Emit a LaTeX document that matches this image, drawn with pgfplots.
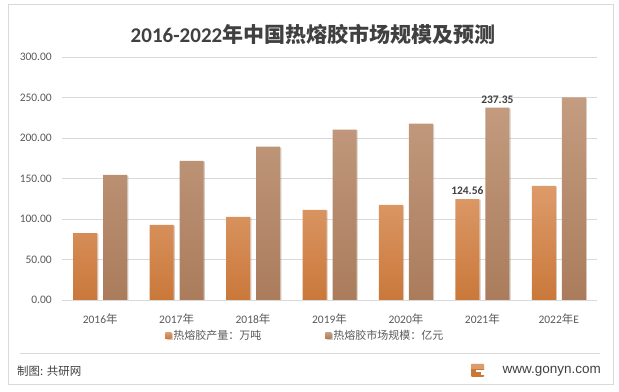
\documentclass[border=0pt]{standalone}
\usepackage{fontspec}
\setmainfont{Carlito}
\newfontfamily\cjk{Noto Sans CJK SC}
\newfontfamily\lib{Liberation Sans}
\usepackage{pgfplots}
\pgfplotsset{compat=1.18}
\usetikzlibrary{shadows}
\definecolor{orT}{RGB}{221,155,106}
\definecolor{orB}{RGB}{202,120,58}
\definecolor{brT}{RGB}{196,156,128}
\definecolor{brB}{RGB}{170,124,92}
\definecolor{gridc}{RGB}{217,217,217}
\definecolor{txt}{RGB}{89,89,89}
\definecolor{dtxt}{RGB}{64,64,64}
\begin{document}
\begin{tikzpicture}
\path[use as bounding box] (0,0) rectangle (619bp,392bp);
\draw[gridc, line width=0.75bp] (8bp,8bp) rectangle (613bp,388bp);
\draw[gridc, line width=0.75bp] (20bp,39bp) -- (600bp,39bp);
\node[anchor=west, text=dtxt, font=\cjk\fontsize{11.5bp}{13bp}\selectfont, inner sep=0pt] at (17bp,21bp) {制图: 共研网};
\node[anchor=east, text=dtxt, font=\lib\fontsize{13.5bp}{15bp}\selectfont, inner sep=0pt] at (601bp,21bp) {www.gonyn.com};
\fill[orB, rounded corners=1bp] (471bp,15bp) rectangle (484bp,28bp);
\fill[orT] (471bp,23bp) rectangle (484bp,28bp);
\fill[white] (476bp,19.5bp) rectangle (484.5bp,22bp);
\fill[white] (481bp,17bp) rectangle (484.5bp,22bp);
\node[text=dtxt, font=\fontsize{21bp}{24bp}\selectfont\bfseries, inner sep=0pt] at (313bp,358bp) {2016-2022{\cjk\bfseries 年中国热熔胶市场规模及预测}};
\begin{axis}[
  at={(62bp,92bp)}, anchor=south west, scale only axis,
  width=535bp, height=243bp,
  xmin=-0.5, xmax=6.5, ymin=0, ymax=300,
  ybar=6bp, bar width=24bp,
  ytick={0,50,...,300},
  xtick={0,...,6},
  xticklabels={2016{\cjk 年},2017{\cjk 年},2018{\cjk 年},2019{\cjk 年},2020{\cjk 年},2021{\cjk 年},2022{\cjk 年}E},
  ymajorgrids, grid style={gridc, line width=0.75bp},
  axis line style={draw=none},
  major tick length=0pt,
  tick label style={text=txt, font=\fontsize{11.5bp}{13bp}\selectfont},
  /pgf/number format/assume math mode=true,
  yticklabel style={/pgf/number format/fixed, /pgf/number format/fixed zerofill, /pgf/number format/precision=2, inner sep=0pt, xshift=-10bp},
  xticklabel style={inner sep=0pt, anchor=north, yshift=-14bp},
  point meta=explicit symbolic,
  nodes near coords,
  nodes near coords style={text=dtxt, font=\fontsize{11.5bp}{13bp}\selectfont\bfseries, inner sep=1pt, yshift=3bp},
  legend columns=2,
  legend style={draw=none, fill=none, at={(0.455,-0.148)}, anchor=center,
    font=\cjk\fontsize{11bp}{13bp}\selectfont, text=txt},
  legend cell align=left,
]
\addplot[draw=none, top color=orT, bottom color=orB,
  drop shadow={opacity=0.25, shadow xshift=1.2bp, shadow yshift=-0.8bp},
  legend image code/.code={\fill[orB!80!orT] (0bp,-3bp) rectangle (6bp,3bp);}]
  coordinates {(0,82.5) [] (1,92.8) [] (2,102.7) [] (3,111.3) [] (4,117.5) [] (5,124.56) [124.56] (6,141.0) []};
\addplot[draw=none, top color=brT, bottom color=brB,
  drop shadow={opacity=0.25, shadow xshift=1.2bp, shadow yshift=-0.8bp},
  legend image code/.code={\fill[brB!70!brT] (0bp,-3bp) rectangle (6bp,3bp);}]
  coordinates {(0,154.6) [] (1,171.9) [] (2,189.2) [] (3,210.3) [] (4,217.7) [] (5,237.35) [237.35] (6,250.0) []};
\legend{热熔胶产量：万吨\hspace*{62bp},热熔胶市场规模：亿元}
\end{axis}
\end{tikzpicture}
\end{document}
